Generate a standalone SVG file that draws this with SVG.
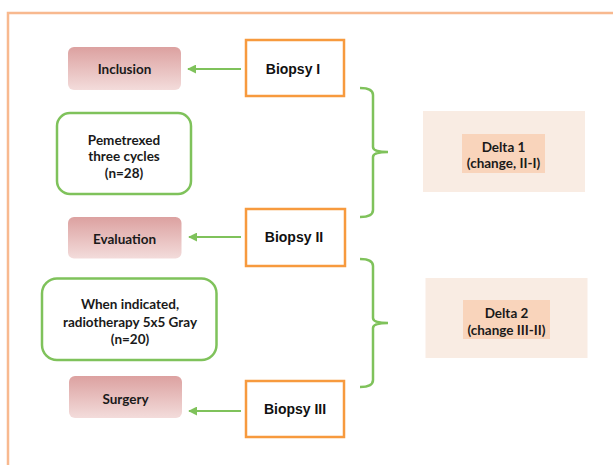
<svg xmlns="http://www.w3.org/2000/svg" width="613" height="465" viewBox="0 0 613 465">
<defs>
<linearGradient id="pink" x1="0" y1="0" x2="0" y2="1">
<stop offset="0" stop-color="#dca1a0"/>
<stop offset="1" stop-color="#f3dcdb"/>
</linearGradient>
<marker id="ah" viewBox="0 0 10 10" refX="9" refY="5" markerWidth="4.5" markerHeight="4.5" orient="auto" markerUnits="strokeWidth">
<path d="M0,0 L10,5 L0,10 z" fill="#7fc25b"/>
</marker>
</defs>
<style>
.pink{fill:url(#pink);}
.green{fill:#fff;stroke:#7fc25b;stroke-width:2.5;}
.bio{fill:#fff;stroke:#f79a3e;stroke-width:2.5;}
.outer{fill:#f9ece3;}
.inner{fill:#f9d4bb;}
.t{font-family:Lato,"Liberation Sans",sans-serif;font-weight:bold;font-size:13.5px;fill:#1a1a1a;text-anchor:middle;}
.tb{font-family:"Liberation Sans",Arial,sans-serif;font-weight:bold;font-size:14px;fill:#111;text-anchor:middle;}
.conn{fill:none;stroke:#7fc25b;stroke-width:2.5;}
.arr{fill:none;stroke:#7fc25b;stroke-width:2;marker-end:url(#ah);}
</style>
<path d="M8,470 V13 H620" fill="none" stroke="#f8b98f" stroke-width="2.5"/>

<g id="inclusion"><rect class="pink" x="68" y="47" width="113" height="43" rx="6"/><text class="t" x="124.5" y="74" font-size="14.5">Inclusion</text></g>
<g id="biopsy1"><rect class="bio" x="246" y="40" width="98" height="56"/><text class="tb" x="293" y="73.5">Biopsy I</text></g>
<g id="pemetrexed"><rect class="green" x="57" y="113" width="134" height="81" rx="13"/>
<text class="t" x="124" y="144.5">Pemetrexed</text><text class="t" x="124" y="161">three cycles</text><text class="t" x="124" y="177.5">(n=28)</text></g>
<g id="evaluation"><rect class="pink" x="68" y="217" width="113.5" height="41.5" rx="6"/><text class="t" x="124.5" y="243.5" font-size="14.5">Evaluation</text></g>
<g id="biopsy2"><rect class="bio" x="246" y="209" width="99" height="57"/><text class="tb" x="294" y="242">Biopsy II</text></g>
<g id="radiotherapy"><rect class="green" x="42" y="278.5" width="174.5" height="81.5" rx="15"/>
<text class="t" x="130" y="309">When indicated,</text><text class="t" x="130" y="326.5">radiotherapy 5x5 Gray</text><text class="t" x="130" y="344">(n=20)</text></g>
<g id="surgery"><rect class="pink" x="69" y="376" width="113" height="42" rx="6"/><text class="t" x="125.5" y="404" font-size="14.5">Surgery</text></g>
<g id="biopsy3"><rect class="bio" x="246" y="381" width="98" height="56"/><text class="tb" x="295" y="413.5">Biopsy III</text></g>
<g id="delta1"><rect class="outer" x="423" y="111" width="162" height="81"/><rect class="inner" x="462" y="134" width="83" height="39"/>
<text class="t" x="503.5" y="151.5">Delta 1</text><text class="t" x="503.5" y="167.5">(change, II-I)</text></g>
<g id="delta2"><rect class="outer" x="425.5" y="278" width="162" height="80"/><rect class="inner" x="463" y="300" width="87" height="39"/>
<text class="t" x="506.5" y="318">Delta 2</text><text class="t" x="506.5" y="334.5">(change III-II)</text></g>

<g id="connectors">
<line class="arr" x1="241" y1="69" x2="188" y2="69"/>
<line class="arr" x1="241" y1="237" x2="189" y2="237"/>
<line class="arr" x1="241" y1="411" x2="189" y2="411"/>
<path class="conn" d="M360,88 Q373,88 373,95 V147 Q373,152 388,152 Q373,152 373,157 V210 Q373,217 360,217"/>
<path class="conn" d="M360,259 Q373,259 373,266 V318 Q373,323 388,323 Q373,323 373,328 V380 Q373,387 360,387"/>
</g>
</svg>
